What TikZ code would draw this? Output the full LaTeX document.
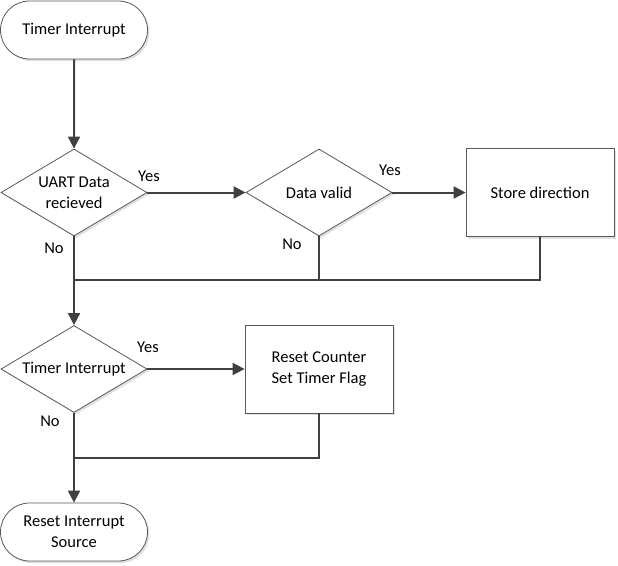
\documentclass[tikz,border=0pt]{standalone}
\usepackage{fontspec}
\setmainfont{Carlito}
\usetikzlibrary{shapes.geometric,shapes.misc,arrows.meta,shadows}
\begin{document}
\begin{tikzpicture}[x=1pt,y=-1pt,
  font=\fontsize{16.5}{21}\selectfont,
  shp/.style={draw=black!65,line width=0.8pt,fill=white,align=center,inner sep=0pt,
    drop shadow={shadow xshift=2pt,shadow yshift=-2pt,fill=black!20,opacity=0.6}},
  term/.style={shp,rounded rectangle,minimum width=147pt,minimum height=58pt},
  dec/.style={shp,diamond,aspect=1.7,minimum width=146pt,minimum height=87pt},
  proc/.style={shp,rectangle,minimum width=148pt,minimum height=88pt},
  conn/.style={draw=black!75,line width=2pt},
  arr/.style={conn,-{Triangle[length=12pt,width=12pt]}},
  lbl/.style={inner sep=0pt}]
\useasboundingbox (0,0) rectangle (618,565);
\node[term] (start) at (74,30) {Timer Interrupt};
\node[dec] (d1) at (74,192.5) {UART Data\\recieved};
\node[dec] (d2) at (319,192.5) {Data valid};
\node[proc] (store) at (540,192.5) {Store direction};
\node[dec] (d3) at (74,369) {Timer Interrupt};
\node[proc] (reset) at (319,369) {Reset Counter\\Set Timer Flag};
\node[term] (end) at (74,532) {Reset Interrupt\\Source};
\coordinate (j1) at (74,280);
\coordinate (j2) at (74,458);
\draw[arr] (start) -- (d1);
\draw[arr] (d1.east) -- (d2.west);
\draw[arr] (d2.east) -- (store.west);
\draw[arr] (d1.south) -- (d3.north);
\draw[conn] (d2.south) |- (j1);
\draw[conn] (store.south) |- (j1);
\draw[arr] (d3.east) -- (reset.west);
\draw[conn] (reset.south) |- (j2);
\draw[arr] (d3.south) -- (end.north);
\node[lbl] (y1) at (149,176) {Yes};
\node[lbl] (n1) at (54,248) {No};
\node[lbl] (y2) at (390,170) {Yes};
\node[lbl] (n2) at (292,244) {No};
\node[lbl] (y3) at (148,347) {Yes};
\node[lbl] (n3) at (50,421) {No};
\end{tikzpicture}
\end{document}
